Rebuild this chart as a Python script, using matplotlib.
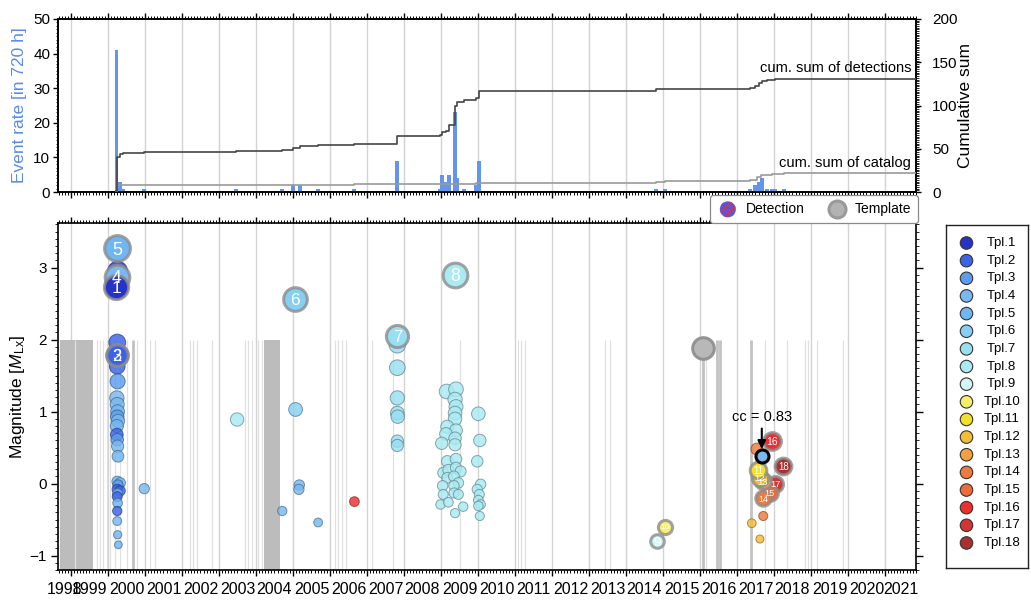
import numpy as np
import matplotlib
matplotlib.use('Agg')
import matplotlib.pyplot as plt
import matplotlib.colors as mcolors
from matplotlib.ticker import MultipleLocator, NullFormatter

plt.rcParams['font.family'] = ['Liberation Sans', 'DejaVu Sans']
plt.rcParams['mathtext.fontset'] = 'custom'
plt.rcParams['mathtext.rm'] = 'Liberation Sans'
plt.rcParams['mathtext.it'] = 'Liberation Sans:italic'
plt.rcParams['hatch.color'] = '#d9304f'
plt.rcParams['hatch.linewidth'] = 1.5

# ---------------- data ----------------
x_min, x_max = 1997.649, 2020.838
year_ticks = list(range(1998, 2021))
year_labels = [str(y) for y in range(1998, 2022)]

# event rate per 720 h (top panel bars)
bar_year = [1999.235, 1999.32, 1999.40, 1999.97, 2002.46, 2003.70, 2004.00, 2004.19,
            2004.68, 2005.65, 2006.81, 2007.97, 2008.03, 2008.14, 2008.22, 2008.38,
            2008.43, 2008.62, 2008.95, 2009.03, 2013.81, 2014.05, 2016.35, 2016.49,
            2016.59, 2016.68, 2016.81, 2016.95, 2017.03, 2017.27]
bar_rate = [41, 3, 1, 1, 1, 1, 2, 2, 1, 1, 9, 1, 5, 3, 5, 23, 4, 1, 2, 9,
            1, 1, 1, 2, 3, 4, 1, 1, 1, 1]

# cumulative sums (right axis)
cum_det_year = [1999.22, 1999.235, 1999.32, 1999.40, 1999.97, 2002.46, 2003.70, 2004.00,
                2004.19, 2004.68, 2005.65, 2006.81, 2007.97, 2008.03, 2008.14, 2008.22,
                2008.38, 2008.43, 2008.62, 2008.95, 2009.03, 2013.81, 2014.05, 2016.35,
                2016.49, 2016.59, 2016.68, 2016.81, 2016.95, 2017.03, 2017.27, 2020.838]
cum_det = [1, 41, 44, 45.5, 46.5, 47.5, 48.5, 50.5, 53, 54.5, 55.5, 64.5, 66, 69, 71, 77,
           99, 104, 106, 109, 117, 118.5, 119.5, 120.5, 123, 126, 128, 129, 130, 130.5,
           131, 131]
cum_cat_year = [1999.22, 1999.235, 2005.65, 2008.95, 2013.81, 2014.05, 2016.35, 2016.55,
                2016.65, 2016.95, 2017.27, 2020.838]
cum_cat = [0, 8, 9, 10, 11, 12.5, 13.5, 17, 19.5, 21, 22, 22]

# templates
tpl_names = ['Tpl.1', 'Tpl.2', 'Tpl.3', 'Tpl.4', 'Tpl.5', 'Tpl.6', 'Tpl.7', 'Tpl.8', 'Tpl.9',
             'Tpl.10', 'Tpl.11', 'Tpl.12', 'Tpl.13', 'Tpl.14', 'Tpl.15', 'Tpl.16', 'Tpl.17',
             'Tpl.18']
tpl_colors = ['#2633c9', '#3b63e6', '#5b9cf0', '#7ab8f0', '#6fb6f2', '#86cff2', '#99dff2',
              '#a9eaf3', '#d1f6f8', '#f7ee6a', '#f5df2a', '#f5bc35', '#f3a040', '#f07a3c',
              '#f06a35', '#ec2f2f', '#d33434', '#a8302e']
tpl_year = [1999.23, 1999.25, 1999.24, 1999.24, 1999.25, 2004.06, 2006.82, 2008.38, 2013.85,
            2014.05, 2016.58, 2016.62, 2016.69, 2016.71, 2016.89, 2016.94, 2017.03, 2017.25]
tpl_mag = [2.73, 1.79, 1.79, 2.87, 3.27, 2.56, 2.05, 2.90, -0.80,
           -0.60, 0.19, 0.08, 0.03, -0.20, -0.13, 0.59, 0.00, 0.24]
extra_tpl_year = [2015.09]
extra_tpl_mag = [1.88]

# detections (year, magnitude, template number)
det_year = [1999.26, 1999.25, 1999.25, 1999.26, 1999.24, 1999.25, 1999.26, 1999.25, 1999.27,
            1999.24, 1999.24, 1999.25, 1999.26, 1999.27, 1999.25, 1999.33, 1999.27, 1999.25,
            1999.33, 1999.26, 1999.25, 1999.26, 1999.25, 1999.25, 1999.26, 1999.28, 1999.98,
            2002.49, 2003.71, 2004.07, 2004.17, 2004.16, 2004.68, 2005.66,
            2006.82, 2006.82, 2006.82, 2006.82, 2006.83, 2006.82, 2006.82,
            2008.15, 2008.405, 2008.38, 2008.405, 2008.38, 2008.38, 2008.17, 2008.405, 2008.135,
            2008.38, 2008.02, 2008.38, 2008.17, 2008.405, 2008.06, 2008.20, 2008.405, 2008.53,
            2008.17, 2008.35, 2008.47, 2008.045, 2008.35, 2008.06, 2008.35, 2008.47, 2007.99,
            2008.20, 2008.60, 2008.38,
            2009.01, 2009.05, 2008.98, 2009.07, 2008.98, 2009.035, 2009.01, 2009.07, 2009.01,
            2009.05,
            2016.54, 2016.71, 2016.40, 2016.62]
det_mag = [2.95, 1.96, 1.63, 1.42, 1.19, 1.10, 1.00, 0.93, 0.87,
           0.80, 0.68, 0.61, 0.52, 0.38, 0.03, 0.01, -0.02, -0.08,
           -0.10, -0.14, -0.18, -0.27, -0.38, -0.52, -0.71, -0.85, -0.07,
           0.89, -0.38, 1.03, -0.02, -0.08, -0.54, -0.25,
           1.93, 1.61, 1.19, 0.98, 0.93, 0.59, 0.53,
           1.28, 1.31, 1.17, 1.07, 0.98, 0.90, 0.79, 0.74, 0.69,
           0.63, 0.56, 0.54, 0.31, 0.34, 0.15, 0.19, 0.22, 0.17,
           0.08, 0.10, 0.01, -0.03, -0.03, -0.15, -0.13, -0.15, -0.29,
           -0.26, -0.32, -0.41,
           0.97, 0.60, 0.31, -0.01, -0.08, -0.15, -0.23, -0.29, -0.31,
           -0.45,
           0.48, -0.45, -0.55, -0.77]
det_tpl = [1, 2, 2, 3, 4, 4, 5, 3, 4,
           5, 2, 3, 4, 5, 5, 4, 3, 2,
           2, 4, 2, 5, 2, 4, 5, 5, 4,
           8, 4, 6, 4, 4, 4, 16,
           7, 7, 7, 7, 7, 7, 7,
           8, 8, 8, 8, 8, 8, 8, 8, 8,
           8, 8, 8, 8, 8, 8, 8, 8, 8,
           8, 8, 8, 8, 8, 8, 8, 8, 8,
           8, 8, 8,
           8, 8, 8, 8, 8, 8, 8, 8, 8,
           8,
           14, 14, 12, 12]

# highlighted detection with correlation coefficient
cc_year, cc_mag, cc_value, cc_tpl = 2016.67, 0.38, 0.83, 4

# data gaps
gap_span_start = [1997.70, 2003.22]
gap_span_end = [1998.59, 2003.66]
gap_lines_dark = [1999.68, 2015.08, 2015.46, 2015.54, 2016.38]
gap_lines_light = [1998.12, 1998.70, 1998.78, 1998.86, 1998.97, 1999.05, 1999.19, 1999.32,
                   1999.51, 1999.78, 2000.14, 2000.27, 2001.22, 2001.30, 2001.41, 2001.81,
                   2002.70, 2002.78, 2002.89, 2003.05, 2003.16, 2005.14, 2005.22, 2005.32,
                   2005.43, 2006.14, 2006.70, 2008.51, 2010.08, 2010.16, 2010.27, 2012.43,
                   2012.57, 2015.16, 2016.76, 2017.35, 2017.84, 2017.92, 2018.16, 2018.86]
gap_top = 2.0

# ---------------- figure ----------------
W, H, DPI = 1031, 600, 100
fig = plt.figure(figsize=(W / DPI, H / DPI), dpi=DPI)
px2pt = 72.0 / DPI

ax_l = 58 / W
ax_w = (916 - 58) / W
ax1 = fig.add_axes([ax_l, 1 - 192 / H, ax_w, (192 - 19) / H])
ax2 = fig.add_axes([ax_l, 1 - 570 / H, ax_w, (570 - 223) / H])

grid_color = '#d3d3d3'


def style_xaxis(ax):
    ax.set_xlim(x_min, x_max)
    ax.set_xticks(year_ticks)
    ax.xaxis.set_minor_locator(MultipleLocator(1 / 12))
    ax.xaxis.set_major_formatter(NullFormatter())
    ax.tick_params(axis='x', which='major', direction='out', length=4, width=1,
                   top=True, bottom=True)
    ax.tick_params(axis='x', which='minor', direction='out', length=2, width=0.7,
                   top=True, bottom=True)
    for y in year_ticks:
        ax.axvline(y, color=grid_color, lw=1.0, zorder=0.5)
    for s in ax.spines.values():
        s.set_linewidth(1.2)


# ---- top panel ----
style_xaxis(ax1)
ax1.bar(bar_year, bar_rate, width=0.095, color='#6495ED', zorder=3)
ax1.set_ylim(0, 50)
ax1.set_yticks([0, 10, 20, 30, 40, 50])
ax1.yaxis.set_minor_locator(MultipleLocator(1))
ax1.tick_params(axis='y', which='major', length=3.5, width=1, pad=2, labelsize=11)
ax1.tick_params(axis='y', which='minor', length=1.8, width=0.6)
ax1.set_ylabel('Event rate [in 720 h]', color='#5a8be8', fontsize=12.5)
ax1.yaxis.set_label_coords(-0.036, 0.5)

ax1r = ax1.twinx()
ax1r.set_xlim(x_min, x_max)
ax1r.step(cum_det_year, cum_det, where='post', color='#454545', lw=1.2, zorder=4)
ax1r.step(cum_cat_year, cum_cat, where='post', color='#9a9a9a', lw=1.2, zorder=3)
ax1r.set_ylim(0, 200)
ax1r.set_yticks([0, 50, 100, 150, 200])
ax1r.yaxis.set_minor_locator(MultipleLocator(2))
ax1r.tick_params(axis='y', which='major', length=3.5, width=1, pad=8, labelsize=11)
ax1r.tick_params(axis='y', which='minor', length=1.8, width=0.6)
ax1r.set_ylabel('Cumulative sum', fontsize=12.5)
ax1r.yaxis.set_label_coords(1.049, 0.5)
ax1r.text(x_max - 0.13, cum_det[-1] + 4, 'cum. sum of detections', ha='right',
          va='bottom', fontsize=10.5)
ax1r.text(x_max - 0.13, cum_cat[-1] + 3, 'cum. sum of catalog', ha='right',
          va='bottom', fontsize=10.5)
for s in ax1r.spines.values():
    s.set_linewidth(1.2)

# ---- bottom panel ----
style_xaxis(ax2)
y_lo, y_hi = -1.2, 3.62
ax2.set_ylim(y_lo, y_hi)
ax2.set_yticks([-1, 0, 1, 2, 3])
ax2.yaxis.set_minor_locator(MultipleLocator(0.1))
ax2.tick_params(axis='y', which='major', length=5, width=1, pad=3, labelsize=11,
                right=True)
ax2.tick_params(axis='y', which='minor', length=2.2, width=0.6, right=True)
ax2.set_ylabel(r'Magnitude [$M_{\mathrm{Lx}}$]', fontsize=12.5)
ax2.yaxis.set_label_coords(-0.036, 0.5)

# year labels centred between year ticks
bounds = [x_min] + year_ticks + [x_max]
lab_pos = [(bounds[i] + bounds[i + 1]) / 2 for i in range(len(bounds) - 1)]
sec = ax2.secondary_xaxis('bottom')
sec.set_xticks(lab_pos, year_labels)
sec.xaxis.set_minor_locator(matplotlib.ticker.NullLocator())
sec.tick_params(axis='x', length=0, pad=9, labelsize=11.5)
sec.spines['bottom'].set_visible(False)

# data gaps
for a, b in zip(gap_span_start, gap_span_end):
    ax2.fill_betweenx([y_lo, gap_top], a, b, color='#bcbcbc', lw=0, zorder=1)
ax2.vlines(gap_lines_light, y_lo, gap_top, color='#e0e0e0', lw=0.9, zorder=1.1)
ax2.vlines(gap_lines_dark, y_lo, gap_top, color='#c2c2c2', lw=2.0, zorder=1)


def det_diam(m):
    return max(6.5, 10.5 + 3.2 * m)


def tpl_diam(m):
    return 16.0 + 3.0 * m


# detections
faces, edges, sizes = [], [], []
for m, t in zip(det_mag, det_tpl):
    rgb = np.array(mcolors.to_rgb(tpl_colors[t - 1]))
    faces.append((*rgb, 0.82))
    edges.append((*(rgb * 0.55), 0.7))
    sizes.append((det_diam(m) * px2pt) ** 2)
ax2.scatter(det_year, det_mag, s=sizes, c=faces, edgecolors=edges, linewidths=0.7,
            zorder=4)

# extra template (grey)
ax2.scatter(extra_tpl_year, extra_tpl_mag,
            s=[(tpl_diam(m) * px2pt) ** 2 for m in extra_tpl_mag],
            facecolor='#b8b8b8', edgecolor=(0.55, 0.55, 0.55, 0.9), linewidths=2.2,
            zorder=5)

# templates (drawn in reverse so low numbers sit on top; labels above all circles)
for k in range(len(tpl_names) - 1, -1, -1):
    x, m = tpl_year[k], tpl_mag[k]
    d = tpl_diam(m)
    z = 6 + (len(tpl_names) - k) * 0.1
    ax2.scatter([x], [m], s=(d * px2pt) ** 2, facecolor=tpl_colors[k],
                edgecolor=(0.55, 0.55, 0.55, 0.8), linewidths=2.2, zorder=z)
    num = str(k + 1)
    fs = (6 + 0.27 * d) if len(num) == 1 else 0.42 * d
    ax2.text(x, m, num, color='white', ha='center', va='center_baseline',
             fontsize=fs, zorder=10 + z)

# highlighted detection + annotation
ax2.scatter([cc_year], [cc_mag], s=(13 * px2pt) ** 2, facecolor=tpl_colors[cc_tpl - 1],
            edgecolor='black', linewidths=2.2, zorder=30)
ax2.annotate(f'cc = {cc_value:.2f}', xy=(cc_year, cc_mag + 0.1),
             xytext=(cc_year, cc_mag + 0.54), ha='center', va='center', fontsize=10.5,
             arrowprops=dict(arrowstyle='-|>', color='black', lw=1.5, mutation_scale=12,
                             shrinkA=1, shrinkB=0),
             zorder=31)

# Detection / Template legend
h_det = ax2.scatter([], [], s=(16 * px2pt) ** 2, facecolor='#5a56d6',
                    edgecolor='#d9304f', hatch='////', linewidths=0)
h_tpl = ax2.scatter([], [], s=(17 * px2pt) ** 2, facecolor='#b3b3b3',
                    edgecolor='#9a9a9a', linewidths=2.2)
leg = fig.legend([h_det, h_tpl], ['Detection', 'Template'], loc='center',
                 bbox_to_anchor=(814 / W, 1 - 209 / H), ncol=2, frameon=True,
                 fancybox=True, fontsize=10, handletextpad=0.5, columnspacing=1.5,
                 borderpad=0.5, handlelength=1.6, framealpha=1, borderaxespad=0)
leg.get_frame().set_edgecolor('#8a8a8a')
leg.get_frame().set_linewidth(0.9)
leg.set_zorder(50)

# template colour legend (right)
axl = fig.add_axes([946 / W, 1 - 568 / H, 82 / W, (568 - 225) / H])
axl.set_xlim(0, 1)
axl.set_ylim(0, 1)
axl.set_xticks([])
axl.set_yticks([])
for s in axl.spines.values():
    s.set_linewidth(1.0)
    s.set_color('#222222')
rows = np.linspace(0.9475, 0.073, len(tpl_names))
axl.scatter(np.full(len(tpl_names), 0.25), rows, s=(12.5 * px2pt) ** 2, c=tpl_colors,
            edgecolors='#333333', linewidths=0.8)
for r, name in zip(rows, tpl_names):
    axl.text(0.68, r, name, ha='center', va='center', fontsize=9.5)

fig.savefig('out.png', dpi=DPI)
